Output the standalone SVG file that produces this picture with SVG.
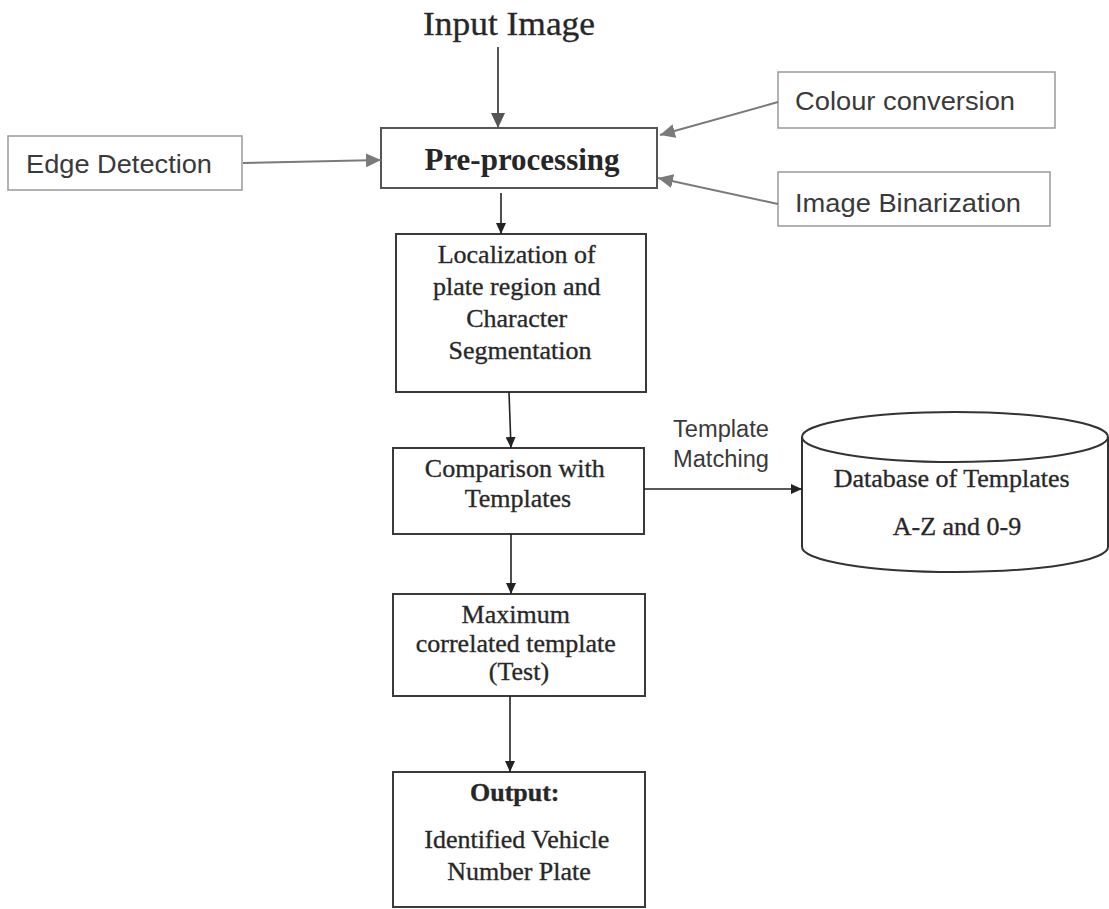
<svg xmlns="http://www.w3.org/2000/svg" width="1109" height="909" viewBox="0 0 1109 909">
<style>
.side{fill:#fff;stroke:#9a9a9a;stroke-width:1.5}
.main{fill:#fff;stroke:#3a3a3a;stroke-width:2}
.sans{font-family:"Liberation Sans",Arial,sans-serif;fill:#3a3a3a}
.serif{font-family:"Liberation Serif","Times New Roman",serif;fill:#262626;text-anchor:middle;stroke:#333;stroke-width:0.35}
.ga{stroke:#7a7a7a;stroke-width:2;fill:none}
.ka{stroke:#222;stroke-width:1.6;fill:none}
</style>
<defs>
<marker id="gh" markerUnits="userSpaceOnUse" markerWidth="16" markerHeight="14" refX="15" refY="7" orient="auto">
<path d="M0,0 L15,7 L0,14 Z" fill="#7a7a7a"/>
</marker>
<marker id="dh" markerUnits="userSpaceOnUse" markerWidth="16" markerHeight="14" refX="15" refY="7" orient="auto">
<path d="M0,0 L15,7 L0,14 Z" fill="#555"/>
</marker>
<marker id="kh" markerUnits="userSpaceOnUse" markerWidth="12" markerHeight="10" refX="11" refY="5" orient="auto">
<path d="M0,0 L11,5 L0,10 Z" fill="#222"/>
</marker>
</defs>

<g id="input-image">
<text class="serif" x="509" y="35" font-size="34" textLength="172" lengthAdjust="spacingAndGlyphs">Input Image</text>
</g>

<g id="pre-processing">
<rect class="main" x="381" y="128" width="276" height="60" style="stroke:#555"/>
<text class="serif" x="522" y="170" font-size="32" font-weight="bold" textLength="195" lengthAdjust="spacingAndGlyphs" style="stroke-width:0">Pre-processing</text>
</g>

<g id="edge-detection">
<rect class="side" x="8" y="136" width="234" height="54"/>
<text class="sans" x="26" y="173" font-size="26" textLength="186" lengthAdjust="spacingAndGlyphs">Edge Detection</text>
</g>

<g id="colour-conversion">
<rect class="side" x="778" y="72" width="277" height="56"/>
<text class="sans" x="795" y="110" font-size="26" textLength="220" lengthAdjust="spacingAndGlyphs">Colour conversion</text>
</g>

<g id="image-binarization">
<rect class="side" x="778" y="172" width="272" height="54"/>
<text class="sans" x="795" y="212" font-size="26" textLength="226" lengthAdjust="spacingAndGlyphs">Image Binarization</text>
</g>

<g id="localization">
<rect class="main" x="396" y="234" width="250" height="158"/>
<text class="serif" font-size="26">
<tspan x="520" y="263">Localization of</tspan>
<tspan x="520" y="295">plate region and</tspan>
<tspan x="520" y="327">Character</tspan>
<tspan x="520" y="359">Segmentation</tspan>
</text>
</g>

<g id="comparison">
<rect class="main" x="393" y="448" width="251" height="86"/>
<text class="serif" font-size="26">
<tspan x="518" y="477">Comparison with</tspan>
<tspan x="518" y="507">Templates</tspan>
</text>
</g>

<g id="maximum">
<rect class="main" x="393" y="594" width="252" height="102"/>
<text class="serif" font-size="26">
<tspan x="519" y="623">Maximum</tspan>
<tspan x="519" y="652">correlated template</tspan>
<tspan x="519" y="680">(Test)</tspan>
</text>
</g>

<g id="output">
<rect class="main" x="393" y="772" width="252" height="135"/>
<text class="serif" font-size="26">
<tspan x="518" y="801" font-weight="bold">Output:</tspan>
<tspan x="520" y="848">Identified Vehicle</tspan>
<tspan x="519" y="880">Number Plate</tspan>
</text>
</g>

<g id="database">
<path d="M802,437 L802,547 A153,25 0 0 0 1108,547 L1108,437" fill="#fff" stroke="#333" stroke-width="2"/>
<ellipse cx="955" cy="437" rx="153" ry="25" fill="#fff" stroke="#333" stroke-width="2"/>
<text class="serif" font-size="26">
<tspan x="955" y="487">Database of Templates</tspan>
<tspan x="957" y="535">A-Z and 0-9</tspan>
</text>
</g>

<g id="template-matching-label">
<text class="sans" font-size="23">
<tspan x="673" y="437" textLength="96" lengthAdjust="spacingAndGlyphs">Template</tspan>
<tspan x="673" y="467" textLength="96" lengthAdjust="spacingAndGlyphs">Matching</tspan>
</text>
</g>

<g id="connectors">
<line class="ga" x1="498" y1="47" x2="498" y2="128" style="stroke:#555" marker-end="url(#dh)"/>
<line class="ga" x1="243" y1="163" x2="381" y2="160" marker-end="url(#gh)"/>
<line class="ga" x1="778" y1="102" x2="660" y2="135" marker-end="url(#gh)"/>
<line class="ga" x1="778" y1="204" x2="658" y2="178" marker-end="url(#gh)"/>
<line class="ka" x1="501" y1="193" x2="501" y2="234" marker-end="url(#kh)"/>
<line class="ka" x1="509" y1="392" x2="511" y2="448" marker-end="url(#kh)"/>
<line class="ka" x1="511" y1="534" x2="511" y2="594" marker-end="url(#kh)"/>
<line class="ka" x1="510" y1="696" x2="510" y2="772" marker-end="url(#kh)"/>
<line class="ka" x1="644" y1="489" x2="802" y2="489" marker-end="url(#kh)"/>
</g>
</svg>
